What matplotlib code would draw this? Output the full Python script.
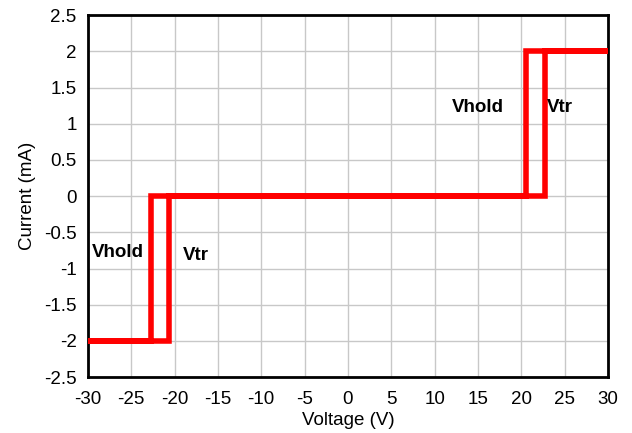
import matplotlib
matplotlib.use('Agg')
import matplotlib.pyplot as plt

plt.rcParams['font.family'] = ['Liberation Sans', 'DejaVu Sans']
plt.rcParams['axes.unicode_minus'] = False

# Hysteresis path (voltage in V, current in mA)
voltage = [-30, -20.6, -20.6, 22.7, 22.7, 30, 20.5, 20.5, -22.7, -22.7, -30]
current = [-2, -2, 0, 0, 2, 2, 2, 0, 0, -2, -2]

x_ticks = list(range(-30, 31, 5))
y_ticks = [-2.5, -2, -1.5, -1, -0.5, 0, 0.5, 1, 1.5, 2, 2.5]
y_labels = ['-2.5', '-2', '-1.5', '-1', '-0.5', '0', '0.5', '1', '1.5', '2', '2.5']

fig = plt.figure(figsize=(6.32, 4.33), dpi=100)
ax = fig.add_axes([0.139, 0.129, 0.823, 0.836])

ax.plot(voltage, current, color='#ff0000', linewidth=4, solid_joinstyle='miter', zorder=3)

ax.set_xlim(-30, 30)
ax.set_ylim(-2.5, 2.5)
ax.set_xticks(x_ticks)
ax.set_yticks(y_ticks)
ax.set_yticklabels(y_labels)
ax.tick_params(axis='x', length=0, labelsize=13.5, pad=10)
ax.tick_params(axis='y', length=0, labelsize=13.5, pad=8)
ax.grid(True, color='#c8c8c8', linewidth=1)
for s in ax.spines.values():
    s.set_linewidth(2)
    s.set_color('black')

ax.set_xlabel('Voltage (V)', fontsize=13.5, labelpad=3)
ax.set_ylabel('Current (mA)', fontsize=13.5, labelpad=6)

ax.text(-29.5, -0.78, 'Vhold', fontsize=13.5, fontweight='bold', va='center')
ax.text(-19.0, -0.82, 'Vtr', fontsize=13.5, fontweight='bold', va='center')
ax.text(12.0, 1.23, 'Vhold', fontsize=13.5, fontweight='bold', va='center')
ax.text(23.0, 1.22, 'Vtr', fontsize=13.5, fontweight='bold', va='center')

fig.savefig('out.png', dpi=100)
